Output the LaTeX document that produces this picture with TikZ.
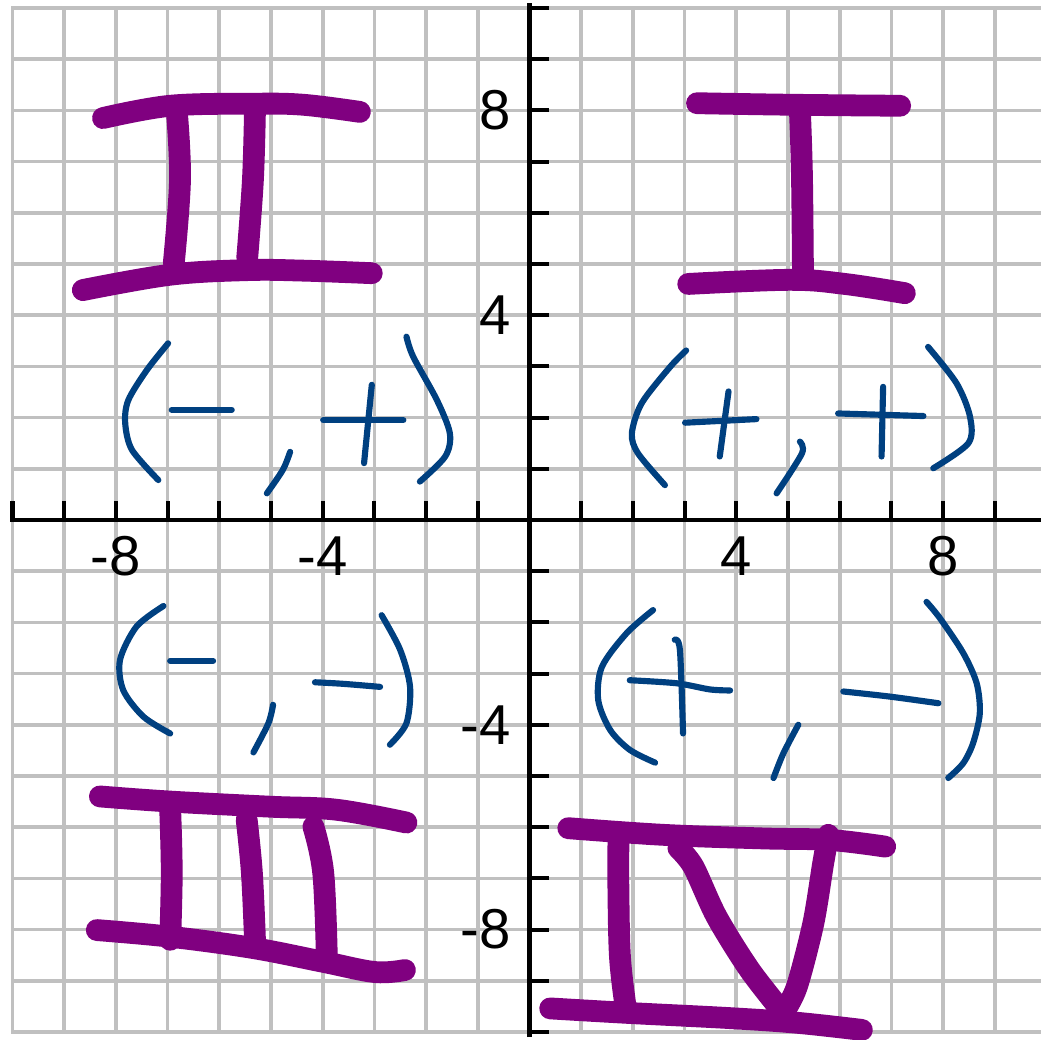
\documentclass[tikz,border=0pt]{standalone}
\usepackage{fontspec}
\setmainfont{Liberation Sans}
\usetikzlibrary{positioning}

\definecolor{gridgray}{RGB}{192,192,192}
\definecolor{numeralpurple}{RGB}{128,0,128}
\definecolor{signblue}{RGB}{0,64,128}

\begin{document}
\begin{tikzpicture}[
    x=1.034cm,
    y=1.024cm,
    gridline/.style={gridgray, line width=2.1pt, line cap=rect},
    axisline/.style={black, line width=2.3pt},
    numeral/.style={numeralpurple, line width=12.4pt, line cap=round, line join=round},
    sign/.style={signblue, line width=3.5pt, line cap=round, line join=round},
    ticklabel/.style={inner sep=0pt, font=\fontsize{32}{32}\selectfont}
]

% Ramka obrazka
\useasboundingbox[fill=white]
    (-10.242,-10.156)
    rectangle
    (9.894,10.156);

% Siatka
\foreach \k in {-10,...,9}
    \draw[gridline] (\k,-10) -- (\k,10);

\foreach \k in {-10,...,10}
    \draw[gridline] (-10,\k) -- (9.95,\k);

% Osie
\draw[axisline]
    (-10.04,0) -- (9.95,0);

\draw[axisline]
    (0,-10.1) -- (0,10.1);

% Znaczniki na osiach
\foreach \k in {-10,...,9}
    \draw[axisline] (\k,0) -- (\k,0.37);

\foreach \k in {-10,...,10}
    \draw[axisline] (0,\k) -- (0.37,\k);

% Opisy osi
\node[ticklabel] (xm8) at (-8,-0.70) {-8};
\node[ticklabel] (xm4) at (-4,-0.70) {-4};
\node[ticklabel] (xp4) at (4,-0.70) {4};
\node[ticklabel] (xp8) at (8,-0.70) {8};

\node[ticklabel, anchor=east] (yp8) at (-0.36,8) {8};
\node[ticklabel, anchor=east] (yp4) at (-0.36,4) {4};
\node[ticklabel, anchor=east] (ym4) at (-0.36,-4) {-4};
\node[ticklabel, anchor=east] (ym8) at (-0.36,-8) {-8};

% Ćwiartka II
\draw[numeral] plot[smooth, tension=0.6] coordinates
    {(-8.25,7.85) (-6.95,8.09) (-5.35,8.13) (-4.38,8.11) (-3.28,7.97)};
\draw[numeral] plot[smooth, tension=0.6] coordinates
    {(-8.64,4.49) (-6.95,4.79) (-5.46,4.88) (-4.38,4.87) (-3.05,4.82)};
\draw[numeral] plot[smooth, tension=0.6] coordinates
    {(-6.82,7.95) (-6.76,6.64) (-6.88,5.02)};
\draw[numeral] plot[smooth, tension=0.6] coordinates
    {(-5.31,8.01) (-5.35,6.64) (-5.46,5.12)};

\draw[sign] plot[smooth] coordinates
    {(-6.99,3.45) (-7.40,2.93) (-7.76,2.34) (-7.82,1.89) (-7.69,1.37) (-7.18,0.78)};
\draw[sign]
    (-6.92,2.15) -- (-5.76,2.15);
\draw[sign] plot[smooth] coordinates
    {(-4.63,1.33) (-4.77,0.98) (-5.08,0.52)};
\draw[sign]
    (-3.99,1.95) -- (-2.44,1.95);
\draw[sign]
    (-3.05,2.64) -- (-3.20,1.11);
\draw[sign] plot[smooth] coordinates
    {(-2.38,3.58) (-2.25,3.19) (-1.79,2.34) (-1.54,1.69) (-1.63,1.24) (-2.12,0.75)};

% Ćwiartka I
\draw[numeral] plot[smooth, tension=0.6] coordinates
    {(3.24,8.14) (5.04,8.11) (7.17,8.09)};
\draw[numeral] plot[smooth, tension=0.6] coordinates
    {(5.23,8.01) (5.27,6.74) (5.29,4.79)};
\draw[numeral] plot[smooth, tension=0.6] coordinates
    {(3.07,4.61) (5.04,4.69) (6.10,4.61) (7.26,4.43)};

\draw[sign] plot[smooth] coordinates
    {(3.03,3.31) (2.72,2.99) (2.17,2.28) (1.98,1.69) (2.10,1.30) (2.62,0.68)};
\draw[sign]
    (3.01,1.90) -- (4.39,1.97);
\draw[sign]
    (3.85,2.51) -- (3.68,1.24);
\draw[sign] plot[smooth] coordinates
    {(5.23,1.53) (5.27,1.30) (4.78,0.52)};
\draw[sign]
    (5.97,2.08) -- (7.62,2.03);
\draw[sign]
    (6.84,2.60) -- (6.81,1.24);
\draw[sign] plot[smooth] coordinates
    {(7.71,3.38) (8.26,2.67) (8.52,2.02) (8.49,1.50) (7.81,1.01)};

% Ćwiartka III
\draw[sign] plot[smooth] coordinates
    {(-7.08,-1.68) (-7.60,-2.08) (-7.92,-2.73) (-7.86,-3.32) (-7.47,-3.84) (-6.95,-4.17)};
\draw[sign]
    (-6.95,-2.75) -- (-6.12,-2.75);
\draw[sign] plot[smooth] coordinates
    {(-4.96,-3.61) (-5.05,-3.97) (-5.34,-4.54)};
\draw[sign] plot[smooth] coordinates
    {(-4.15,-3.17) (-3.61,-3.20) (-2.89,-3.26)};
\draw[sign] plot[smooth] coordinates
    {(-2.86,-1.86) (-2.50,-2.54) (-2.31,-3.26) (-2.38,-3.97) (-2.70,-4.39)};

\draw[numeral] plot[smooth, tension=0.6] coordinates
    {(-8.31,-5.40) (-6.95,-5.50) (-5.02,-5.60) (-3.73,-5.66) (-2.38,-5.91)};
\draw[numeral] plot[smooth, tension=0.6] coordinates
    {(-8.37,-8.01) (-6.95,-8.14) (-5.35,-8.36) (-3.99,-8.63) (-2.99,-8.83) (-2.41,-8.79)};
\draw[numeral] plot[smooth, tension=0.6] coordinates
    {(-6.95,-5.66) (-6.92,-6.89) (-6.95,-8.20)};
\draw[numeral] plot[smooth, tension=0.6] coordinates
    {(-5.47,-5.86) (-5.37,-6.89) (-5.31,-8.20)};
\draw[numeral] plot[smooth, tension=0.6] coordinates
    {(-4.18,-5.99) (-3.99,-6.89) (-3.92,-8.53)};

% Ćwiartka IV
\draw[sign] plot[smooth] coordinates
    {(2.39,-1.76) (1.88,-2.21) (1.40,-2.87) (1.33,-3.52) (1.56,-4.10) (1.94,-4.49) (2.43,-4.74)};
\draw[sign] plot[smooth] coordinates
    {(1.94,-3.13) (2.85,-3.19) (3.49,-3.31) (3.88,-3.33)};
\draw[sign] plot[smooth] coordinates
    {(2.81,-2.34) (2.91,-2.54) (2.97,-4.17)};
\draw[sign] plot[smooth] coordinates
    {(5.20,-4.00) (4.91,-4.56) (4.72,-5.04)};
\draw[sign] plot[smooth] coordinates
    {(6.07,-3.35) (6.97,-3.45) (7.91,-3.58)};
\draw[sign] plot[smooth] coordinates
    {(7.68,-1.60) (7.94,-1.92) (8.39,-2.60) (8.65,-3.19) (8.71,-3.78) (8.58,-4.36) (8.39,-4.75) (8.10,-5.04)};

\draw[numeral] plot[smooth, tension=0.6] coordinates
    {(0.75,-6.02) (2.59,-6.15) (4.52,-6.22) (5.81,-6.25) (6.88,-6.38)};
\draw[numeral] plot[smooth, tension=0.6] coordinates
    {(0.40,-9.54) (1.94,-9.63) (3.88,-9.73) (5.17,-9.82) (6.43,-9.96)};
\draw[numeral] plot[smooth, tension=0.6] coordinates
    {(1.72,-6.31) (1.72,-7.23) (1.75,-8.53) (1.85,-9.44)};
\draw[numeral] plot[smooth, tension=0.5] coordinates
    {(2.88,-6.41) (3.17,-6.77) (3.62,-7.75) (4.26,-8.79) (4.91,-9.63)};
\draw[numeral] plot[smooth, tension=0.5] coordinates
    {(4.91,-9.63) (5.17,-9.12) (5.49,-7.88) (5.68,-6.71) (5.78,-6.15)};

\end{tikzpicture}
\end{document}
